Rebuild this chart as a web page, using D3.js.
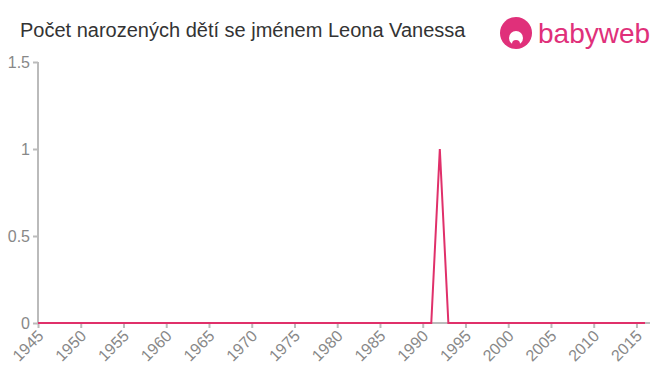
<!DOCTYPE html>
<html>
<head>
<meta charset="utf-8">
<script src="https://d3js.org/d3.v7.min.js"></script>
<style>
  body { margin: 0; background: #fff; }
  text { font-family: "Liberation Sans", Arial, sans-serif; }
</style>
</head>
<body>
<div id="chart"></div>
<script>
// data
var years = d3.range(1945, 2017);
var counts = years.map(function(y) { return y === 1992 ? 1 : 0; });
var yTicks = [0, 0.5, 1, 1.5];
var xTicks = d3.range(1945, 2016, 5);

var W = 660, H = 375;
var svg = d3.select("#chart").append("svg")
  .attr("width", W).attr("height", H);

var x = d3.scaleLinear().domain([1945, 2016]).range([38, 645]);
var y = d3.scaleLinear().domain([0, 1.5]).range([323, 62]);

// title
svg.append("text")
  .attr("x", 20).attr("y", 37)
  .attr("font-size", 20).attr("fill", "#333")
  .text("Počet narozených dětí se jménem Leona Vanessa");

// logo
var logo = svg.append("g").attr("transform", "translate(516,33)");
logo.append("circle").attr("r", 16).attr("fill", "#e0307a");
logo.append("circle").attr("cx", 0).attr("cy", 5).attr("r", 7).attr("fill", "#fff");
logo.append("circle").attr("cx", 0).attr("cy", 11).attr("r", 4).attr("fill", "#e0307a");
logo.append("text").attr("x", 22).attr("y", 10)
  .attr("font-size", 28).attr("fill", "#e0307a").attr("font-family", "'Open Sans', sans-serif")
  .text("babyweb");

// y axis
var yAxis = svg.append("g").attr("transform", "translate(38,0)")
  .call(d3.axisLeft(y).tickValues(yTicks).tickSize(5).tickFormat(function(d) { return d; }));
yAxis.select(".domain").attr("stroke", "#bbb").attr("stroke-width", 2)
  .attr("d", "M0," + y(1.5) + "V" + y(0));
yAxis.selectAll(".tick line").attr("stroke", "#bbb").attr("stroke-width", 2);
yAxis.selectAll(".tick text").attr("fill", "#888").attr("font-size", 16).attr("x", -8);

// x axis
var xAxis = svg.append("g").attr("transform", "translate(0," + y(0) + ")")
  .call(d3.axisBottom(x).tickValues(xTicks).tickSize(5).tickFormat(d3.format("d")));
xAxis.select(".domain").attr("stroke", "#bbb").attr("stroke-width", 2)
  .attr("d", "M38,0H650");
xAxis.selectAll(".tick line").attr("stroke", "#bbb").attr("stroke-width", 2);
xAxis.selectAll(".tick text")
  .attr("fill", "#888").attr("font-size", 16)
  .attr("text-anchor", "end")
  .attr("dy", null).attr("y", 0).attr("x", 0)
  .attr("transform", "translate(6,14) rotate(-45)");

// line
svg.append("path")
  .datum(counts)
  .attr("fill", "none")
  .attr("stroke", "#e0306a")
  .attr("stroke-width", 2)
  .attr("d", d3.line()
    .x(function(d, i) { return x(years[i]); })
    .y(function(d) { return y(d); }));
</script>
</body>
</html>
